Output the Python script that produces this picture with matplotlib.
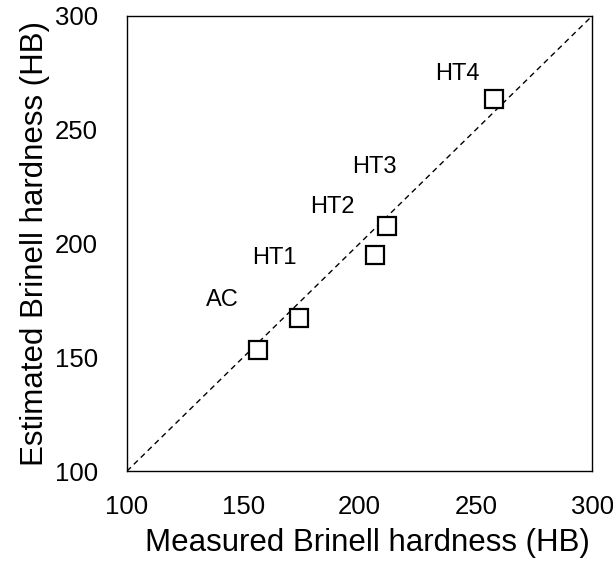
import matplotlib
matplotlib.use("Agg")
import matplotlib.pyplot as plt

plt.rcParams["font.family"] = ["Liberation Sans", "DejaVu Sans"]

# data
samples = ["AC", "HT1", "HT2", "HT3", "HT4"]
measured = [156.5, 173.8, 206.8, 211.7, 257.6]
estimated = [153.2, 167.1, 194.9, 207.7, 263.4]
label_x = [141.2, 163.4, 188.5, 206.4, 242.0]
label_y = [175.0, 193.5, 216.2, 233.8, 274.5]
ticks = [100, 150, 200, 250, 300]

fig = plt.figure(figsize=(6.13, 5.69), dpi=100)
ax = fig.add_axes([0.207, 0.172, 0.759, 0.800])

# 1:1 reference line
ax.plot([100, 300], [100, 300], linestyle=(0, (4, 3)), color="black", linewidth=1.0)
ax.plot(measured, estimated, linestyle="none", marker="s", markersize=13.5,
        markerfacecolor="white", markeredgecolor="black", markeredgewidth=1.6)

for name, lx, ly in zip(samples, label_x, label_y):
    ax.text(lx, ly, name, fontsize=17, ha="center", va="center")

ax.set_xlim(100, 300)
ax.set_ylim(100, 300)
ax.set_xticks(ticks)
ax.set_yticks(ticks)
ax.tick_params(length=0, labelsize=18.5)
ax.tick_params(axis="x", pad=17)
ax.tick_params(axis="y", pad=21)
for s in ax.spines.values():
    s.set_linewidth(1.0)
    s.set_color("black")

ax.set_xlabel("Measured Brinell hardness (HB)", fontsize=22.5)
ax.xaxis.set_label_coords(0.518, -0.125)
ax.set_ylabel("Estimated Brinell hardness (HB)", fontsize=22.5, labelpad=3)

fig.savefig("out.png", dpi=100)
